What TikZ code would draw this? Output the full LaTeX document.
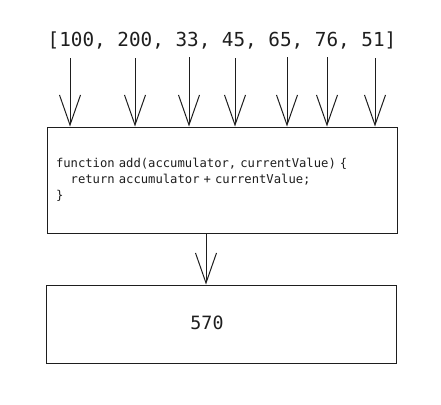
\documentclass[tikz,border=0pt]{standalone}
\usepackage{fontspec}
\setmonofont{DejaVu Sans Mono}
\usetikzlibrary{positioning, arrows.meta}
\definecolor{inkColor}{HTML}{1E1E1E}
\tikzstyle{codeBox}=[draw=inkColor,line width=1pt,rectangle,minimum width=350pt,inner sep=0pt]
\tikzstyle{valueArrow}=[-{Straight Barb[length=30pt,width=21pt]}, line width=1pt, draw=inkColor]

\begin{document}
\begin{tikzpicture}[x=1pt,y=-1pt]
        \useasboundingbox (0,0) rectangle (441,404);

        \node[text=inkColor, font=\ttfamily\fontsize{19.3}{23}\selectfont] (list) at (222, 41) {[100, 200, 33, 45, 65, 76, 51]};

        \node[codeBox, minimum height=106pt, text width=332pt, inner xsep=9pt, align=left,
              text=inkColor, font=\ttfamily\fontsize{12.2}{16}\selectfont] (fn) at (222, 180)
              {function add(accumulator, currentValue) \{\\
              \hphantom{xx}return accumulator + currentValue;\\
              \}};

        \node[codeBox, minimum height=78pt] (result) at (221, 324) {};
        \node[text=inkColor, font=\ttfamily\fontsize{18.3}{22}\selectfont] (sum) at (207, 323) {570};

        \coordinate (v1) at (70, 58);
        \coordinate (v2) at (135, 58);
        \coordinate (v3) at (189, 57);
        \coordinate (v4) at (235, 58);
        \coordinate (v5) at (287, 57);
        \coordinate (v6) at (327, 57);
        \coordinate (v7) at (375, 58);
        \coordinate (link) at (206, 0);

        \draw[valueArrow] (v1) -- (v1 |- fn.north);
        \draw[valueArrow] (v2) -- (v2 |- fn.north);
        \draw[valueArrow] (v3) -- (v3 |- fn.north);
        \draw[valueArrow] (v4) -- (v4 |- fn.north);
        \draw[valueArrow] (v5) -- (v5 |- fn.north);
        \draw[valueArrow] (v6) -- (v6 |- fn.north);
        \draw[valueArrow] (v7) -- (v7 |- fn.north);

        \draw[valueArrow] (link |- fn.south) -- (link |- result.north);

    \end{tikzpicture}
\end{document}
